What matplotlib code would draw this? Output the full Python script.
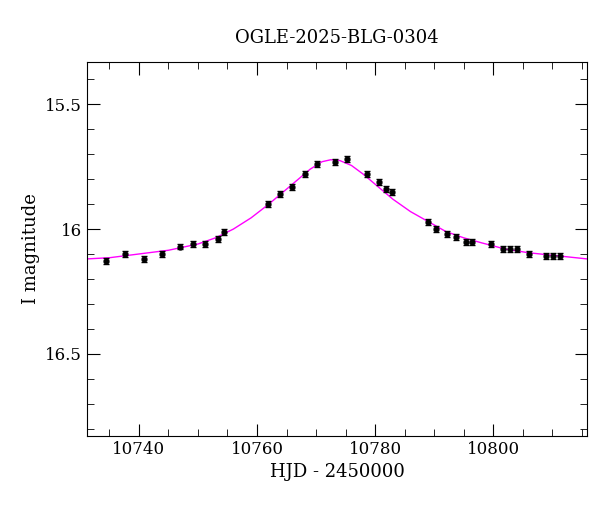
import matplotlib
matplotlib.use("Agg")
import matplotlib.pyplot as plt
from matplotlib.ticker import MultipleLocator

title = "OGLE-2025-BLG-0304"
hjd = [10734.4,10737.6,10740.8,10743.9,10747.0,10749.2,10751.2,10753.4,10754.4,
       10761.9,10763.9,10765.9,10768.1,10770.2,10773.2,10775.3,10778.6,10780.7,
       10781.9,10782.9,10789.0,10790.3,10792.2,10793.7,10795.4,10796.4,10799.7,
       10801.7,10802.9,10804.1,10806.0,10809.0,10810.2,10811.4]
mag = [16.13,16.10,16.12,16.10,16.07,16.06,16.06,16.04,16.01,
       15.90,15.86,15.83,15.78,15.74,15.73,15.72,15.78,15.81,
       15.84,15.85,15.97,16.00,16.02,16.03,16.05,16.05,16.06,
       16.08,16.08,16.08,16.10,16.11,16.11,16.11]
err = [0.012]*len(hjd)
model_x = [10731,10735,10740,10745,10750,10753,10756,10759,10762,10765,10767,10769,
           10771,10772.5,10774,10776,10778,10780,10783,10786,10789,10792,10795,
           10798,10802,10806,10810,10816]
model_y = [16.12,16.115,16.10,16.085,16.06,16.035,16.0,15.955,15.90,15.84,15.80,
           15.76,15.73,15.722,15.725,15.745,15.78,15.82,15.88,15.93,15.97,16.01,
           16.035,16.055,16.08,16.095,16.105,16.12]

plt.rcParams["font.family"] = "DejaVu Serif"
fig = plt.figure(figsize=(6, 5.12), dpi=100)
ax = fig.add_axes([87/600, 1-436/512, 500/600, 374/512])
ax.plot(model_x, model_y, color="magenta", lw=1)
ax.errorbar(hjd, mag, yerr=err, fmt="o", color="black", ms=3.5, elinewidth=0.8, capsize=2)
ax.set_xlim(10731.2, 10815.9)
ax.set_ylim(16.83, 15.33)
ax.xaxis.set_major_locator(MultipleLocator(20))
ax.xaxis.set_minor_locator(MultipleLocator(5))
ax.yaxis.set_major_locator(MultipleLocator(0.5))
ax.yaxis.set_minor_locator(MultipleLocator(0.1))
ax.set_yticks([15.5, 16.0, 16.5])
ax.set_yticklabels(["15.5", "16", "16.5"])
ax.tick_params(which="both", direction="in", top=True, right=True, labelsize=12)
ax.tick_params(which="major", length=9)
ax.tick_params(which="minor", length=5)
ax.set_xlabel("HJD - 2450000", fontsize=13)
ax.set_ylabel("I magnitude", fontsize=13)
ax.set_title(title, fontsize=13, pad=14)
fig.savefig("out.png")
